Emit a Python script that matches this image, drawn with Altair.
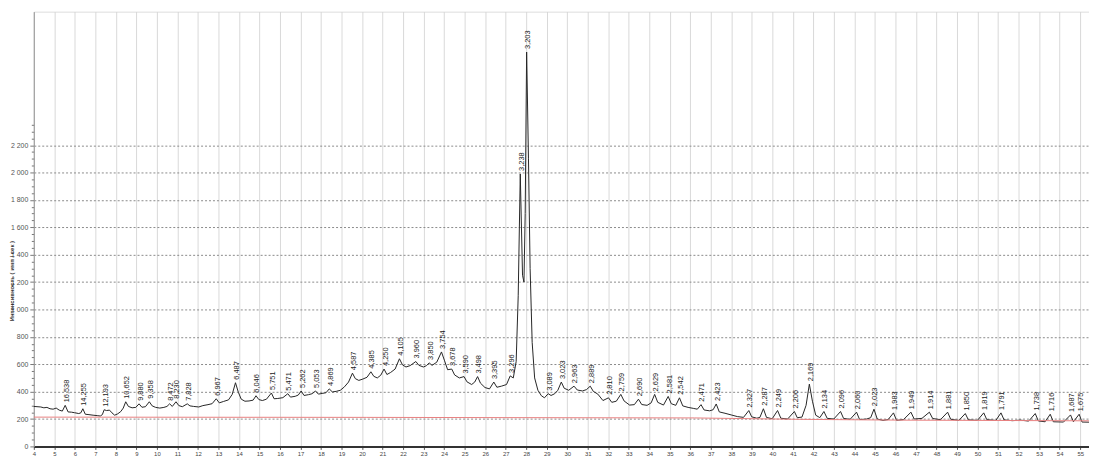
import altair as alt
import pandas as pd

# ---- diffractogram trace (2-theta, intensity) ----
two_theta = [
    4.0, 4.34, 4.49, 4.64, 4.79, 4.94, 5.09, 5.24, 5.39, 5.53, 5.67, 5.84, 5.99, 6.19, 6.29, 6.39,
    6.51, 6.69, 6.89, 7.09, 7.24, 7.34, 7.43, 7.54, 7.69, 7.81, 7.94, 8.09, 8.24, 8.36, 8.48,
    8.61, 8.79, 8.97, 9.13, 9.27, 9.44, 9.63, 9.77, 9.94, 10.14, 10.34, 10.49, 10.62, 10.75,
    10.93, 11.07, 11.24, 11.48, 11.61, 11.79, 12.04, 12.24, 12.49, 12.69, 12.89, 13.04, 13.24,
    13.49, 13.67, 13.83, 13.97, 14.11, 14.29, 14.49, 14.69, 14.83, 14.97, 15.14, 15.34, 15.58,
    15.71, 15.89, 16.14, 16.38, 16.51, 16.74, 16.89, 17.03, 17.17, 17.39, 17.57, 17.73, 17.87,
    18.09, 18.24, 18.40, 18.55, 18.74, 18.94, 19.14, 19.34, 19.53, 19.67, 19.84, 20.04, 20.24,
    20.43, 20.57, 20.74, 20.91, 21.07, 21.21, 21.39, 21.61, 21.82, 21.97, 22.14, 22.34, 22.62,
    22.77, 22.99, 23.14, 23.27, 23.41, 23.64, 23.87, 24.01, 24.17, 24.37, 24.51, 24.74, 24.97,
    25.11, 25.34, 25.49, 25.63, 25.77, 25.99, 26.21, 26.42, 26.57, 26.79, 27.04, 27.22, 27.37,
    27.51, 27.61, 27.71, 27.82, 27.89, 27.95, 28.02, 28.11, 28.19, 28.29, 28.41, 28.57, 28.74,
    28.89, 29.07, 29.21, 29.39, 29.54, 29.71, 29.85, 30.07, 30.33, 30.49, 30.74, 30.94, 31.12,
    31.27, 31.49, 31.74, 32.01, 32.17, 32.39, 32.61, 32.77, 33.04, 33.27, 33.47, 33.63, 33.89,
    34.09, 34.26, 34.41, 34.69, 34.92, 35.07, 35.29, 35.47, 35.63, 35.89, 36.14, 36.34, 36.52,
    36.67, 36.94, 37.11, 37.26, 37.41, 37.69, 37.99, 38.29, 38.59, 38.85, 38.99, 39.24, 39.39,
    39.56, 39.71, 39.99, 40.25, 40.41, 40.74, 41.07, 41.21, 41.44, 41.64, 41.80, 41.95, 42.11,
    42.31, 42.51, 42.67, 42.99, 43.32, 43.47, 43.79, 44.10, 44.25, 44.59, 44.79, 44.95, 45.11,
    45.39, 45.64, 45.90, 46.05, 46.39, 46.75, 46.91, 47.29, 47.65, 47.81, 48.19, 48.54, 48.69,
    49.09, 49.40, 49.55, 49.99, 50.30, 50.45, 50.89, 51.14, 51.29, 51.69, 52.09, 52.49, 52.81,
    52.96, 53.29, 53.54, 53.69, 54.19, 54.53, 54.67, 54.95, 55.09, 55.43,
]
intensity = [
    292, 288, 282, 285, 275, 272, 280, 265, 258, 300, 252, 250, 246, 240, 245, 275,
    235, 232, 228, 225, 222, 232, 268, 262, 265, 245, 228, 238, 255, 280, 326,
    292, 282, 285, 311, 286, 290, 326, 296, 285, 280, 285, 292, 311, 292,
    326, 298, 290, 311, 296, 292, 288, 298, 305, 312, 348, 318, 328,
    340, 380, 465, 395, 345, 330, 332, 338, 370, 342, 335, 345, 390,
    348, 350, 356, 385, 360, 366, 375, 405, 372, 378, 385, 405, 382,
    388, 392, 420, 398, 402, 410, 435, 470, 535, 495, 482, 492, 505,
    545, 512, 500, 520, 565, 525, 540, 565, 640, 595, 580, 590, 620,
    592, 580, 590, 610, 592, 615, 690, 630, 560, 565, 522, 500, 510,
    472, 452, 470, 510, 462, 430, 420, 470, 432, 440, 452, 515, 500,
    620, 1100, 1990, 1250, 1200, 1700, 2880, 2100, 1300, 760, 500, 410, 370,
    355, 385, 372, 385, 410, 470, 425, 410, 440, 412, 405, 415, 440,
    402, 382, 335, 355, 322, 330, 380, 332, 302, 305, 345, 306, 300,
    318, 380, 322, 302, 365, 312, 300, 355, 296, 285, 278, 272, 305,
    266, 260, 268, 310, 252, 242, 230, 218, 212, 262, 216, 206, 212,
    275, 212, 202, 262, 206, 200, 255, 210, 214, 300, 455, 330, 228,
    210, 255, 205, 200, 255, 204, 198, 250, 196, 200, 210, 272, 200,
    190, 196, 245, 190, 196, 250, 200, 205, 250, 204, 195, 250, 198,
    190, 240, 194, 190, 245, 195, 190, 245, 194, 188, 192, 185, 240,
    186, 180, 235, 180, 178, 230, 180, 235, 178, 177,
]

# ---- labelled peaks (d-spacing labels) ----
peak_theta = [
    5.53, 6.39, 7.43, 8.48, 9.13, 9.63, 10.62, 10.93, 11.48, 12.89, 13.83, 14.83, 15.58,
    16.38, 17.03, 17.73, 18.40, 19.53, 20.43, 21.07, 21.82, 22.62, 23.27, 23.87, 24.37,
    24.97, 25.63, 26.42, 27.22, 27.71, 28.02, 29.07, 29.71, 30.33, 31.12, 32.01, 32.61,
    33.47, 34.26, 34.92, 35.47, 36.52, 37.26, 38.85, 39.56, 40.25, 41.07, 41.80, 42.51,
    43.32, 44.10, 44.95, 45.90, 46.75, 47.65, 48.54, 49.40, 50.30, 51.14, 52.81, 53.54,
    54.53, 54.95,
]
peak_height = [
    300, 275, 268, 326, 311, 326, 311, 326, 311, 348, 465, 370, 390,
    385, 405, 405, 420, 535, 545, 565, 640, 620, 610, 690, 565,
    510, 510, 470, 515, 1990, 2880, 385, 470, 440, 440, 355, 380,
    345, 380, 365, 355, 305, 310, 262, 275, 262, 255, 455, 255,
    255, 250, 272, 245, 250, 250, 250, 240, 245, 245, 240, 235,
    230, 235,
]
peak_label = [
    "16,538", "14,255", "12,193", "10,652", "9,880", "9,358", "8,472", "8,230", "7,828",
    "6,967", "6,487", "6,046", "5,751", "5,471", "5,262", "5,053", "4,869", "4,587",
    "4,385", "4,250", "4,105", "3,960", "3,850", "3,754", "3,678", "3,590", "3,498",
    "3,395", "3,296", "3,238", "3,203", "3,089", "3,023", "2,963", "2,889", "2,810",
    "2,759", "2,690", "2,629", "2,581", "2,542", "2,471", "2,423", "2,327", "2,287",
    "2,249", "2,206", "2,169", "2,134", "2,096", "2,060", "2,023", "1,983", "1,949",
    "1,914", "1,881", "1,850", "1,819", "1,791", "1,738", "1,716", "1,687", "1,675",
]

# ---- background line (red) ----
baseline_theta = [4.0, 20.2, 36.2, 41.2, 46.2, 55.43]
baseline_value = [214, 212, 208, 198, 192, 187]

x_ticks = list(range(4, 56))
y_ticks = list(range(0, 2351, 50))

trace = pd.DataFrame({"t": two_theta, "v": intensity})
peaks = pd.DataFrame({"t": peak_theta, "v": peak_height, "lab": peak_label})
bg = pd.DataFrame({"t": baseline_theta, "v": baseline_value})

xs = alt.Scale(domain=[4, 55.43], nice=False, zero=False)
ys = alt.Scale(domain=[0, 3175], nice=False, zero=True)

major = "datum.value % 200 === 0 && datum.value <= 2200"

x_axis = alt.Axis(
    values=x_ticks, title=None, grid=True, gridColor="#cfcfcf", gridWidth=0.8,
    domainColor="#333333", domainWidth=2, tickColor="#555555", tickSize=3,
    labelFontSize=6, labelColor="#444444", labelPadding=1, labelFlush=False,
    labelOverlap=False,
)
y_axis = alt.Axis(
    values=y_ticks, title="Интенсивность ( имп / сек )",
    titleFontSize=6, titleFontWeight="bold", titleColor="#333333",
    titleX=-22, titleY=271, titleAngle=270, titleBaseline="middle", titleAlign="center",
    grid=True,
    gridDash=[2, 2],
    gridColor="#8a8a8a",
    gridOpacity={"condition": {"test": major, "value": 1}, "value": 0},
    domainColor="#999999", domainWidth=1,
    tickColor="#777777",
    tickSize={"condition": {"test": "datum.value % 200 === 0", "value": 4}, "value": 2.5},
    labelExpr=f"{major} ? replace(format(datum.value, ','), ',', ' ') : ''",
    labelFontSize=7, labelColor="#555555", labelPadding=2, labelOverlap=False,
    labelFlush=False,
)

X = alt.X("t:Q", scale=xs, axis=x_axis)
Y = alt.Y("v:Q", scale=ys, axis=y_axis)

curve = alt.Chart(trace).mark_line(color="#262626", strokeWidth=1.0).encode(x=X, y=Y)

red = alt.Chart(bg).mark_line(color="#e88080", strokeWidth=1).encode(x=X, y=Y)

labels = alt.Chart(peaks).mark_text(
    angle=270, align="left", baseline="middle", dx=3, dy=1.5,
    fontSize=7.5, font="Liberation Sans Narrow, Liberation Sans, DejaVu Sans Condensed",
    color="#1a1a1a",
).encode(x=X, y=Y, text="lab:N")

chart = alt.layer(curve, red, labels).properties(
    width=1063,
    height=438,
    autosize=alt.AutoSizeParams(type="none"),
    padding={"left": 26, "top": 2, "right": 0, "bottom": 10},
).configure_view(
    stroke="#9a9a9a", strokeWidth=1
).configure(
    font="Liberation Sans", background="white"
)

chart.save("out.html", embed_options={"renderer": "svg", "actions": False})
